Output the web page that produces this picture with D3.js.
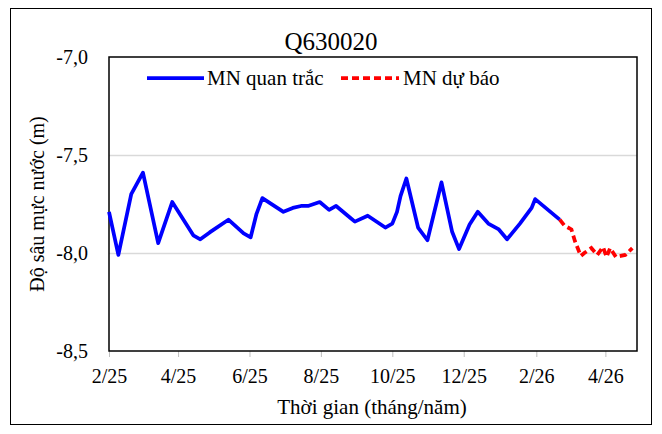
<!DOCTYPE html>
<meta charset="utf-8">
<head>
  <script src="https://d3js.org/d3.v7.min.js"></script>
  <style>
    body { margin: 0; background: white; }
    text { font-family: "Liberation Serif", "Times New Roman", serif; fill: black; }
  </style>
</head>
<body>
  <div id="chart"></div>
  <script>
    // observed water level (MN quan trắc)
    var obsDates = ["2025-02-01","2025-02-09","2025-02-20","2025-03-02","2025-03-15","2025-03-27",
      "2025-04-14","2025-04-20","2025-04-28","2025-05-14","2025-05-27","2025-06-02","2025-06-07",
      "2025-06-12","2025-06-30","2025-07-08","2025-07-15","2025-07-21","2025-07-31","2025-08-08",
      "2025-08-14","2025-08-26","2025-08-30","2025-09-10","2025-09-25","2025-10-01","2025-10-05",
      "2025-10-08","2025-10-13","2025-10-23","2025-10-31","2025-11-12","2025-11-21","2025-11-27",
      "2025-12-06","2025-12-13","2025-12-22","2025-12-31","2026-01-07","2026-01-18","2026-01-28",
      "2026-01-31","2026-02-21"];
    var obsValues = [-7.79,-8.01,-7.70,-7.59,-7.95,-7.74,
      -7.91,-7.93,-7.895,-7.83,-7.90,-7.92,-7.80,
      -7.72,-7.79,-7.77,-7.76,-7.76,-7.74,-7.78,
      -7.76,-7.82,-7.84,-7.81,-7.87,-7.85,-7.79,
      -7.71,-7.62,-7.87,-7.935,-7.64,-7.89,-7.98,
      -7.855,-7.79,-7.85,-7.88,-7.93,-7.85,-7.77,
      -7.725,-7.83];

    // forecast water level (MN dự báo)
    var fcDates = ["2026-02-21","2026-02-25","2026-03-03","2026-03-06","2026-03-11","2026-03-14",
      "2026-03-20","2026-03-25","2026-03-30","2026-04-02","2026-04-05","2026-04-10","2026-04-14",
      "2026-04-18","2026-04-24"];
    var fcValues = [-7.83,-7.86,-7.88,-7.94,-8.015,-8.00,
      -7.975,-8.01,-7.97,-8.02,-7.975,-8.02,-8.015,
      -8.01,-7.975];

    var yTicks = [-7.0, -7.5, -8.0, -8.5];
    var xTickDates = ["2025-02-01","2025-04-01","2025-06-01","2025-08-01","2025-10-01","2025-12-01","2026-02-01","2026-04-01"];

    var W = 662, H = 434;
    var plot = { left: 109, right: 637, top: 57, bottom: 351 };
    var parse = d3.timeParse("%Y-%m-%d");

    var svg = d3.select("#chart").append("svg")
      .attr("width", W).attr("height", H);

    svg.append("rect")
      .attr("x", 10.5).attr("y", 8.5)
      .attr("width", 641).attr("height", 416)
      .attr("fill", "white").attr("stroke", "black").attr("stroke-width", 1);

    var x = d3.scaleTime()
      .domain([parse("2025-02-01"), parse("2026-04-28")])
      .range([plot.left, plot.right]);
    var y = d3.scaleLinear()
      .domain([-8.5, -7.0])
      .range([plot.bottom, plot.top]);

    // gridlines
    svg.append("g").selectAll("line")
      .data(yTicks.slice(1, 3))
      .enter().append("line")
      .attr("x1", plot.left).attr("x2", plot.right)
      .attr("y1", d => Math.round(y(d)) + 0.5).attr("y2", d => Math.round(y(d)) + 0.5)
      .attr("stroke", "#d9d9d9").attr("stroke-width", 1.5);

    // x axis ticks
    var xAxis = d3.axisBottom(x)
      .tickValues(xTickDates.map(parse))
      .tickSize(6).tickPadding(12)
      .tickFormat(d3.timeFormat("%-m/%y"));
    var gx = svg.append("g")
      .attr("transform", "translate(0," + plot.bottom + ")")
      .call(xAxis);
    gx.select(".domain").remove();
    gx.selectAll("line").attr("stroke", "#bfbfbf");
    gx.selectAll("text").style("font-size", "20px")
      .style("font-family", "Liberation Serif");

    // y axis labels
    var yAxis = d3.axisLeft(y)
      .tickValues(yTicks)
      .tickSize(0).tickPadding(21)
      .tickFormat(d => d3.format(".1f")(d).replace(".", ",").replace("−", "-"));
    var gy = svg.append("g")
      .attr("transform", "translate(" + plot.left + ",0)")
      .call(yAxis);
    gy.select(".domain").remove();
    gy.selectAll("text").style("font-size", "20px")
      .style("font-family", "Liberation Serif");

    // plot frame
    svg.append("rect")
      .attr("x", plot.left).attr("y", plot.top)
      .attr("width", plot.right - plot.left).attr("height", plot.bottom - plot.top)
      .attr("fill", "none").attr("stroke", "black").attr("stroke-width", 1.5);

    var line = d3.line()
      .x(d => x(d.date)).y(d => y(d.value));

    var obs = obsDates.map((d, i) => ({ date: parse(d), value: obsValues[i] }));
    var fc = fcDates.map((d, i) => ({ date: parse(d), value: fcValues[i] }));

    svg.append("path")
      .datum(obs)
      .attr("d", line)
      .attr("fill", "none")
      .attr("stroke", "#0000ff")
      .attr("stroke-width", 3.75)
      .attr("stroke-linejoin", "round");

    svg.append("path")
      .datum(fc)
      .attr("d", line)
      .attr("fill", "none")
      .attr("stroke", "#ff0000")
      .attr("stroke-width", 3.75)
      .attr("stroke-dasharray", "7,4");

    // title
    svg.append("text")
      .attr("x", 331).attr("y", 50)
      .attr("text-anchor", "middle")
      .style("font-size", "25px")
      .text("Q630020");

    // legend
    var legend = svg.append("g");
    legend.append("line")
      .attr("x1", 147).attr("x2", 204).attr("y1", 78).attr("y2", 78)
      .attr("stroke", "#0000ff").attr("stroke-width", 3.75);
    legend.append("text")
      .attr("x", 207).attr("y", 85)
      .style("font-size", "21px")
      .text("MN quan trắc");
    legend.append("line")
      .attr("x1", 341).attr("x2", 399).attr("y1", 78).attr("y2", 78)
      .attr("stroke", "#ff0000").attr("stroke-width", 3.75)
      .attr("stroke-dasharray", "7,4");
    legend.append("text")
      .attr("x", 403).attr("y", 85)
      .style("font-size", "21px")
      .text("MN dự báo");

    // axis titles
    svg.append("text")
      .attr("x", 372).attr("y", 414)
      .attr("text-anchor", "middle")
      .style("font-size", "21px")
      .text("Thời gian (tháng/năm)");
    svg.append("text")
      .attr("transform", "translate(44,204) rotate(-90)")
      .attr("text-anchor", "middle")
      .style("font-size", "20px")
      .text("Độ sâu mực  nước (m)");
  </script>
</body>
</html>
